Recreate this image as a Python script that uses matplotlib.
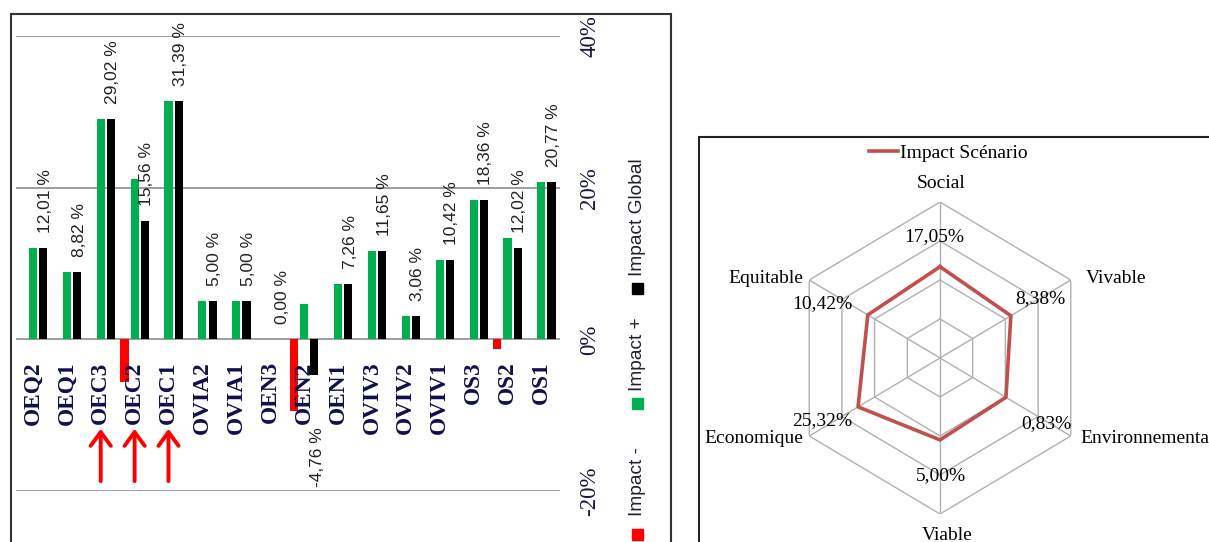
import matplotlib.pyplot as plt
import numpy as np
from matplotlib.patches import Rectangle

# left chart data (values in %)
categories = ["OEQ2", "OEQ1", "OEC3", "OEC2", "OEC1", "OVIA2", "OVIA1", "OEN3",
              "OEN2", "OEN1", "OVIV3", "OVIV2", "OVIV1", "OS3", "OS2", "OS1"]
impact_moins = [0, 0, 0, -5.60, 0, 0, 0, 0, -9.46, 0, 0, 0, 0, 0, -1.30, 0]
impact_plus = [12.01, 8.82, 29.02, 21.16, 31.39, 5.00, 5.00, 0.00, 4.70, 7.26,
               11.65, 3.06, 10.42, 18.36, 13.32, 20.77]
impact_global = [12.01, 8.82, 29.02, 15.56, 31.39, 5.00, 5.00, 0.00, -4.76, 7.26,
                 11.65, 3.06, 10.42, 18.36, 12.02, 20.77]
highlight = ["OEC3", "OEC2", "OEC1"]
yticks = [-20, 0, 20, 40]
ytick_labels = ["-20%", "0%", "20%", "40%"]

# right chart data
dimensions = ["Social", "Vivable", "Environnemental", "Viable", "Economique", "Equitable"]
scenario = [17.05, 8.38, 0.83, 5.00, 25.32, 10.42]

W, H = 1209, 542
navy = "#16163e"


def box(x0, y0, x1, y1):
    # pixel box (top-left origin) -> figure fraction
    return [x0 / W, 1 - y1 / H, (x1 - x0) / W, (y1 - y0) / H]


fig = plt.figure(figsize=(W / 100, H / 100), dpi=100)

# ---------------- bar chart (rotated Excel look) ----------------
ax = fig.add_axes(box(16, 36, 560, 491))
x = np.arange(len(categories))
ax.bar(x - 0.3, impact_moins, 0.24, color="#ff0000", zorder=3)
ax.bar(x, impact_plus, 0.24, color="#00b050", zorder=3)
ax.bar(x + 0.3, impact_global, 0.24, color="black", zorder=3)
ax.set_xlim(-0.5, 15.55)
ax.set_ylim(-20, 40)
for s in ax.spines.values():
    s.set_visible(False)
ax.set_xticks([])
ax.set_yticks(yticks)
ax.set_yticklabels(ytick_labels)
ax.yaxis.tick_right()
ax.tick_params(axis="y", length=0, pad=14)
for t in ax.get_yticklabels():
    t.set_rotation(90)
    t.set_va("center")
    t.set_fontfamily("Liberation Serif")
    t.set_fontsize(16.5)
    t.set_color(navy)
ax.yaxis.grid(True, color="#8c8c8c", lw=1.2)
ax.set_axisbelow(True)

for i, v in enumerate(impact_global):
    txt = f"{v:.2f} %".replace(".", ",")
    if v >= 0:
        ax.annotate(txt, (i + 0.36, v), xytext=(0, 11), textcoords="offset points",
                    rotation=90, ha="center", va="bottom", fontsize=12.5,
                    family="Liberation Sans", color="#222222")
    else:
        ax.annotate(txt, (i + 0.4, v), xytext=(0, -37), textcoords="offset points",
                    rotation=90, ha="center", va="top", fontsize=12.5,
                    family="Liberation Sans", color="#222222")

for i, c in enumerate(categories):
    ax.text(i, -2.9, c, rotation=90, ha="center", va="top", fontsize=16.8,
            family="Liberation Serif", fontweight="bold", color="#10104a")

for c in highlight:
    i = categories.index(c)
    ax.annotate("", xy=(i, -11.8), xytext=(i, -18.7),
                arrowprops=dict(arrowstyle="->,head_width=0.33,head_length=0.45",
                                mutation_scale=22, lw=2.8, color="#ff0000",
                                shrinkA=0, shrinkB=0))

# legend drawn by hand (rotated)
leg = [("Impact -", "#ff0000", 534, 516), ("Impact +", "#00b050", 403, 391),
       ("Impact Global", "black", 288, 276)]
for name, col, sq_y, txt_y in leg:
    fig.add_artist(Rectangle((632 / W, 1 - (sq_y + 5.5) / H), 11 / W, 11 / H,
                             transform=fig.transFigure, color=col))
    fig.text(637 / W, 1 - txt_y / H, name, rotation=90, ha="center", va="bottom",
             fontsize=13.8, family="Liberation Sans", color="#202030")

# frames
fig.add_artist(Rectangle((11 / W, -0.1), 660 / W, 1 - 14 / H + 0.1,
                         transform=fig.transFigure, fill=False, ec="#333333", lw=1.5))
fig.add_artist(Rectangle((699 / W, -0.1), 0.5, 1 - 137 / H + 0.1,
                         transform=fig.transFigure, fill=False, ec="#222222", lw=1.5))

# ---------------- radar chart ----------------
rax = fig.add_axes(box(940 - 151, 358 - 156, 940 + 151, 358 + 156), projection="polar")
rax.set_aspect("auto")
rax.set_theta_zero_location("N")
rax.set_theta_direction(-1)
theta = np.deg2rad(np.arange(len(dimensions)) * 60)
closed = np.append(theta, theta[0])
for ring in [-50, 0, 50, 100]:
    rax.plot(closed, [ring] * len(closed), color="#b0b0b0", lw=1)
for t in theta:
    rax.plot([t, t], [-100, 100], color="#b0b0b0", lw=1)
rax.plot(closed, scenario + [scenario[0]], color="#c0504d", lw=2.6, label="Impact Scénario")
rax.set_ylim(-100, 100)
rax.set_axis_off()

serif = dict(family="Liberation Serif", fontsize=14, color="black")
name_pos = [((1, 7), "center", "bottom"), ((11, 1), "left", "center"),
            ((7, -2), "left", "center"), ((5, -9), "center", "top"),
            ((-4, -2), "right", "center"), ((-4, 1), "right", "center")]
for t, name, (off, ha, va) in zip(theta, dimensions, name_pos):
    rax.annotate(name, (t, 100), xytext=off, textcoords="offset points",
                 ha=ha, va=va, annotation_clip=False, **serif)

val_off = [(-4, 22), (21, 12), (29, -19), (1, -26), (-26, -10), (-33, 8)]
for t, v, off in zip(theta, scenario, val_off):
    rax.annotate(f"{v:.2f}%".replace(".", ","), (t, v), xytext=off,
                 textcoords="offset points", ha="center", va="center",
                 annotation_clip=False, **serif)

rax.legend(loc="center", bbox_to_anchor=(948 / W, 1 - 153 / H),
           bbox_transform=fig.transFigure, frameon=False, handlelength=1.5,
           handletextpad=0.1, prop={"family": "Liberation Serif", "size": 14})

fig.savefig("out.png", dpi=100)
